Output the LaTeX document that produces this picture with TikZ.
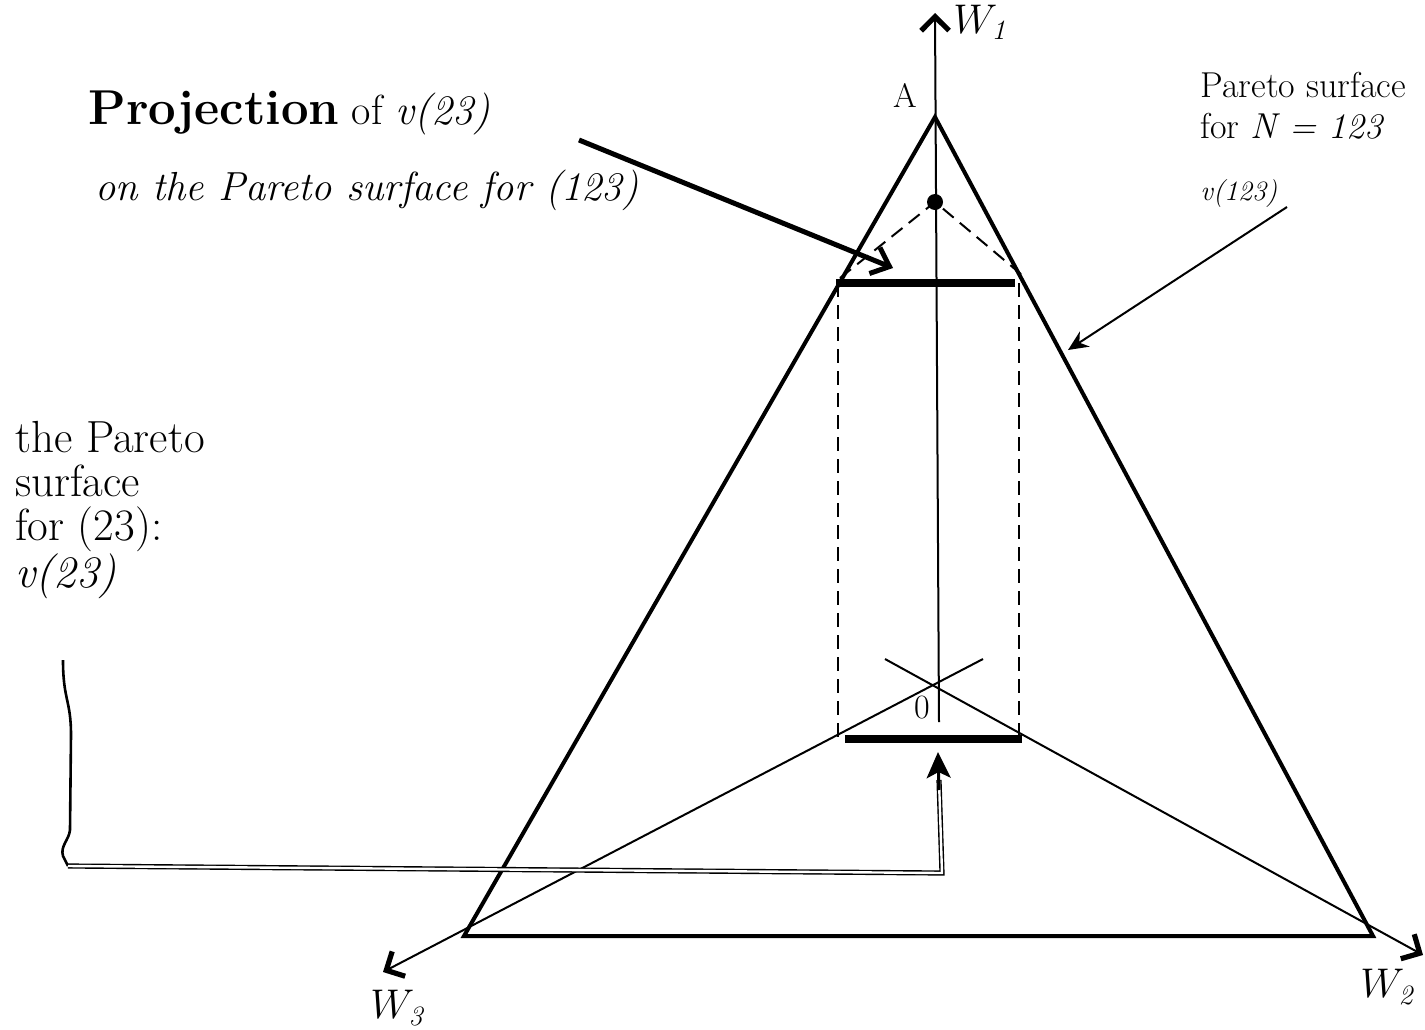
\documentclass[tikz,border=0pt]{standalone}
\usepackage{fontspec}
\usetikzlibrary{arrows.meta}
\tikzset{
  side/.style={line width=2pt,line join=miter},
  axisline/.style={line width=1pt,-{Straight Barb[length=7pt,width=14pt,line width=2.6pt]}},
  guide/.style={line width=1pt,dash pattern=on 7pt off 4pt},
  cutbar/.style={line width=4pt},
  txt/.style={inner sep=0pt,anchor=base west},
  axlabel/.style={font=\fontsize{20}{22}\selectfont},
}
\begin{document}
\begin{tikzpicture}[x=0.5pt,y=-0.5pt]
\useasboundingbox (0,0) rectangle (1425,1029);
% corners of the simplex and the origin
\coordinate (A) at (935,117);
\coordinate (C2) at (1373,936);
\coordinate (C3) at (464,936);
\coordinate (O) at (937,685);
% axes
\coordinate (w1a) at (939,722);
\coordinate (w1b) at (935,13);
\coordinate (w2a) at (885,659);
\coordinate (w2b) at (1423,955);
\coordinate (w3a) at (983,659);
\coordinate (w3b) at (383,972);
\draw[axisline] (w1a) -- (w1b);
\draw[axisline] (w2a) -- (w2b);
\draw[axisline] (w3a) -- (w3b);
\node[axlabel] (W1) at (980,22) {$W_{\mathit{1}}$};
\node[axlabel] (W2) at (1387,987) {$W_{\mathit{2}}$};
\node[axlabel] (W3) at (397,1008) {$W_{\mathit{3}}$};
\node (lA) at (905,95) {\fontsize{17}{19}\selectfont A};
\node (l0) at (922,708) {\fontsize{17}{19}\selectfont 0};
% Pareto surface for 123
\draw[side] (C3) -- (A) -- (C2) -- cycle;
% projection of v(23)
\node[circle,fill,inner sep=0pt,minimum size=8pt] (v) at (935,202) {};
\coordinate (pL) at (840,278);
\coordinate (pR) at (1022,275);
\draw[guide] (pL) -- (v.center) -- (pR);
\coordinate (t1) at (836,283);
\coordinate (t2) at (1015,283);
\coordinate (b1) at (845,739);
\coordinate (b2) at (1022,739);
\draw[guide] (838,283) -- (838,738);
\draw[guide] (1019,283) -- (1019,738);
\draw[cutbar] (t1) -- (t2);
\draw[cutbar] (b1) -- (b2);
% labels and pointers
\node[txt] (proj) at (88,124) {\fontsize{24.5}{26}\selectfont\bfseries Projection\fontsize{21}{22}\selectfont\mdseries{} of \itshape v(23)};
\node[txt,font=\fontsize{20.3}{22}\selectfont] (projb) at (95,200) {\itshape on the Pareto surface for (123)};
\coordinate (pj1) at (579,140);
\coordinate (pj2) at (893,268);
\draw[line width=2.5pt,-{Straight Barb[length=8pt,width=14pt,line width=2.5pt]}] (pj1) -- (pj2);
\node[txt,font=\fontsize{18}{22}\selectfont] (par1) at (1200,97) {Pareto surface};
\node[txt,font=\fontsize{18}{22}\selectfont] (par2) at (1200,138) {for \textit{N = 123}};
\node[txt] (par3) at (1200,200) {\fontsize{14}{15}\selectfont\itshape v(123)};
\coordinate (pa1) at (1287,207);
\coordinate (pa2) at (1068,350);
\draw[line width=1pt,-{Stealth[length=10pt,width=9pt]}] (pa1) -- (pa2);
\node[anchor=north west,inner sep=0pt,align=left,font=\fontsize{22.5}{22}\selectfont] (sub) at (15,421)
  {the Pareto\\surface\\for (23):\\\textit{v(23)}};
\coordinate (k1) at (63,660);
\coordinate (k2) at (68,866);
\coordinate (k3) at (942,873);
\coordinate (k4) at (939,780);
\coordinate (k5) at (938,752);
\draw[line width=1.3pt] (k1) .. controls (63,700) and (71,700) .. (71,735) -- (70,830)
  .. controls (69,840) and (60,846) .. (63,856) -- (k2);
\draw[line width=0.7pt,double,double distance=1.2pt] (k2) -- (k3) -- (k4);
\draw[line width=1.5pt,-{Stealth[length=13pt,width=12pt,inset=3pt]}] (939,790) -- (k5);
\end{tikzpicture}
\end{document}
